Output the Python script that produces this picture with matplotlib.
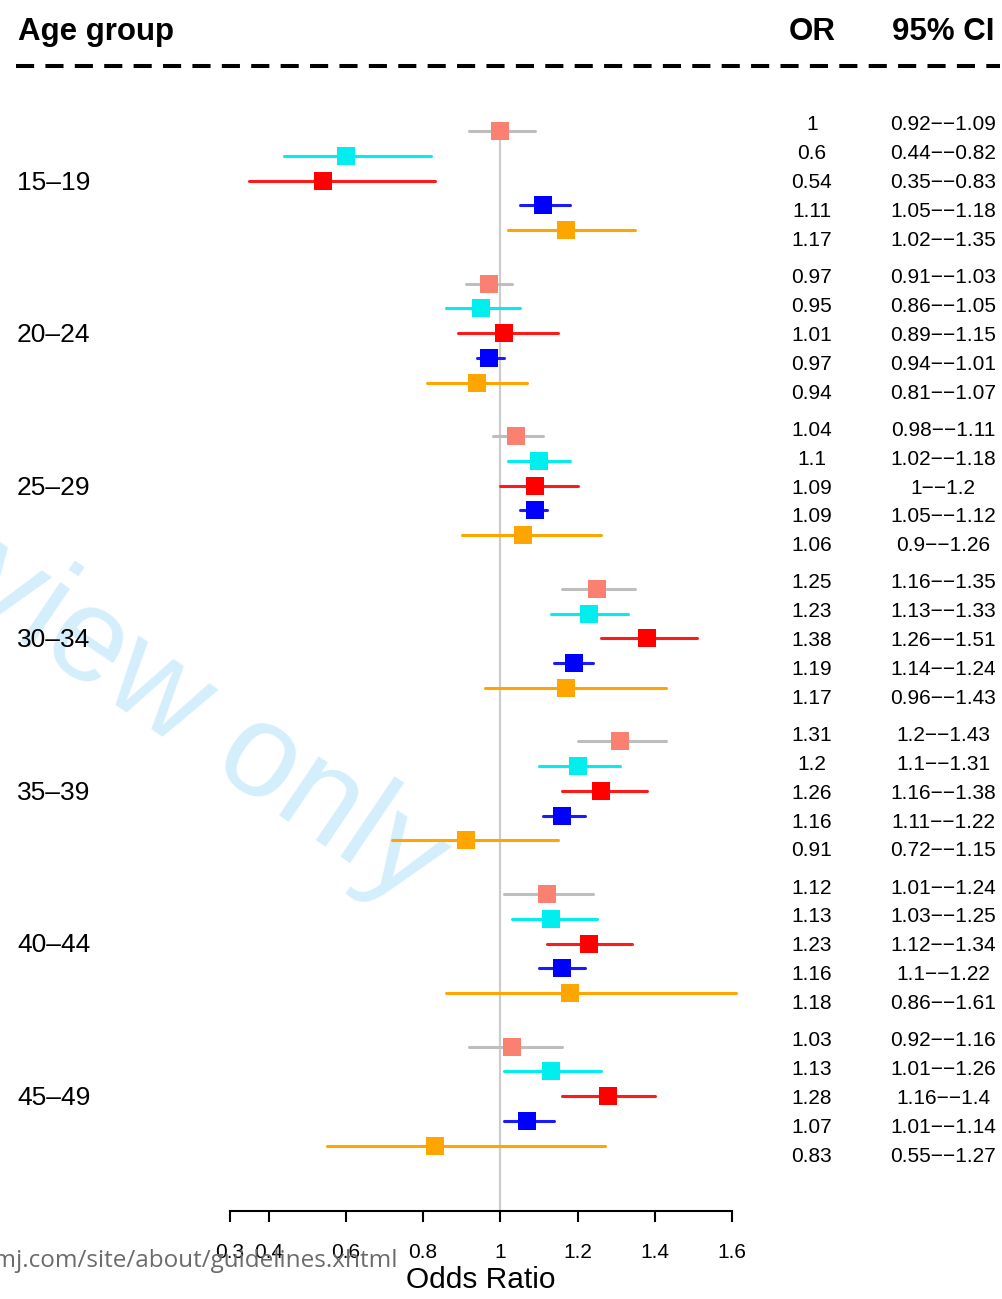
import matplotlib
matplotlib.use('Agg')
import matplotlib.pyplot as plt
from matplotlib.transforms import blended_transform_factory

# age groups and five estimates per group (odds ratio with 95% CI)
age_groups = ['15–19', '20–24', '25–29', '30–34', '35–39', '40–44', '45–49']

odds_ratio = [
    [1, 0.6, 0.54, 1.11, 1.17],
    [0.97, 0.95, 1.01, 0.97, 0.94],
    [1.04, 1.1, 1.09, 1.09, 1.06],
    [1.25, 1.23, 1.38, 1.19, 1.17],
    [1.31, 1.2, 1.26, 1.16, 0.91],
    [1.12, 1.13, 1.23, 1.16, 1.18],
    [1.03, 1.13, 1.28, 1.07, 0.83],
]
ci_lower = [
    [0.92, 0.44, 0.35, 1.05, 1.02],
    [0.91, 0.86, 0.89, 0.94, 0.81],
    [0.98, 1.02, 1, 1.05, 0.9],
    [1.16, 1.13, 1.26, 1.14, 0.96],
    [1.2, 1.1, 1.16, 1.11, 0.72],
    [1.01, 1.03, 1.12, 1.1, 0.86],
    [0.92, 1.01, 1.16, 1.01, 0.55],
]
ci_upper = [
    [1.09, 0.82, 0.83, 1.18, 1.35],
    [1.03, 1.05, 1.15, 1.01, 1.07],
    [1.11, 1.18, 1.2, 1.12, 1.26],
    [1.35, 1.33, 1.51, 1.24, 1.43],
    [1.43, 1.31, 1.38, 1.22, 1.15],
    [1.24, 1.25, 1.34, 1.22, 1.61],
    [1.16, 1.26, 1.4, 1.14, 1.27],
]
x_ticks = [0.3, 0.4, 0.6, 0.8, 1, 1.2, 1.4, 1.6]

box_colors = ['#fa8072', '#00eeee', '#ff0000', '#0000ff', '#ffa500']
line_colors = ['#bebebe', '#00eeee', '#ff1a1a', '#1a1aff', '#ffa500']

# layout (pixel rows, y grows downward)
W, H = 1003, 1299
AXIS_Y = 1211
GROUP_STEP = 152.6
BOX_TOP, BOX_STEP = 131, 24.75
TEXT_TOP, TEXT_STEP = 130.5, 28.9
GROUP_MID = 180.5

plt.rcParams['font.family'] = ['Liberation Sans', 'DejaVu Sans']
narrow = ['Liberation Sans Narrow', 'Liberation Sans']

fig = plt.figure(figsize=(W / 100, H / 100), dpi=100)
ax = fig.add_axes([230 / W, (H - AXIS_Y) / H, 502 / W, AXIS_Y / H])
ax.patch.set_visible(False)
ax.set_xlim(0.3, 1.6)
ax.set_ylim(AXIS_Y, 0)
tr = blended_transform_factory(fig.transFigure, ax.transData)

# watermark behind everything
fig.text(412 / W, 1 - 905 / H, 'For peer review only', rotation=-34,
         rotation_mode='anchor', ha='right', va='baseline', fontsize=96,
         color='#d5eefb', zorder=-1)
fig.text(398 / W, 1 - 1267 / H, 'http://bmjopen.bmj.com/site/about/guidelines.xhtml',
         ha='right', va='baseline', fontsize=17.5, color='#6b6b6b',
         family=['Open Sans', 'DejaVu Sans'])

# header
ax.text(18 / W, 40, 'Age group', transform=tr, fontsize=22.5, fontweight='bold',
        ha='left', va='baseline')
ax.text(812 / W, 40, 'OR', transform=tr, fontsize=22.5, fontweight='bold',
        ha='center', va='baseline')
ax.text(943 / W, 40, '95% CI', transform=tr, fontsize=22.5, fontweight='bold',
        ha='center', va='baseline')
ax.plot([16 / W, 1000 / W], [66, 66], transform=tr, color='black', lw=2.9,
        dashes=(4.5, 2.8), clip_on=False)

# reference line at OR = 1
ax.vlines(1.0, BOX_TOP, AXIS_Y, color='#cccccc', lw=1.6, zorder=1)

for g, label in enumerate(age_groups):
    ax.text(17 / W, GROUP_MID + g * GROUP_STEP + 9, label, transform=tr,
            fontsize=19, ha='left', va='baseline')
    for i in range(5):
        y = BOX_TOP + g * GROUP_STEP + i * BOX_STEP
        ax.plot([ci_lower[g][i], ci_upper[g][i]], [y, y], color=line_colors[i],
                lw=2.2, solid_capstyle='round', clip_on=False, zorder=2)
        ax.plot(odds_ratio[g][i], y, 's', color=box_colors[i], markersize=12.5,
                markeredgewidth=0, zorder=3)
        ty = TEXT_TOP + g * GROUP_STEP + i * TEXT_STEP
        ax.text(812 / W, ty, f'{odds_ratio[g][i]:g}', transform=tr,
                fontsize=15, ha='center', va='baseline')
        ax.text(943 / W, ty, f'{ci_lower[g][i]:g}\u2212\u2212{ci_upper[g][i]:g}',
                transform=tr, fontsize=15, ha='center', va='baseline')

# x axis
for side in ['top', 'right', 'left']:
    ax.spines[side].set_visible(False)
ax.spines['bottom'].set_linewidth(1.5)
ax.set_yticks([])
ax.set_xticks(x_ticks)
ax.set_xticklabels([f'{t:g}' for t in x_ticks])
ax.tick_params(axis='x', length=8, width=1.5, labelsize=15, pad=15)
for lbl in ax.get_xticklabels():
    lbl.set_family(narrow)
ax.set_xlabel('Odds Ratio', fontsize=21.5, labelpad=3, family=narrow)

fig.savefig('out.png', dpi=100)
